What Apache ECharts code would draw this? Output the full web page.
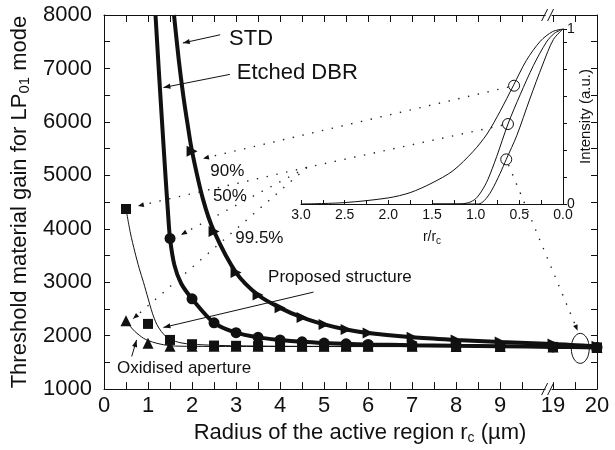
<!DOCTYPE html>
<html><head><meta charset="utf-8">
<script src="https://cdn.jsdelivr.net/npm/echarts@6/dist/echarts.min.js"></script>
<style>html,body{margin:0;padding:0;background:#fff}#c{width:615px;height:450px}</style>
</head><body><div id="c"></div>
<script>
// ---------- data ----------
// main chart: x = radius of active region (µm), y = threshold gain
const xLabelValues = [0,1,2,3,4,5,6,7,8,9,19,20];
const xTickValues  = [0,0.5,1,1.5,2,2.5,3,3.5,4,4.5,5,5.5,6,6.5,7,7.5,8,8.5,9,9.5,19,19.5,20];

const stdCurve = [[1.59,8000],[1.7,7150],[1.8,6500],[1.9,5950],[2,5450],[2.25,4550],[2.5,3950],[3,3180],[3.5,2760],[4,2520],[4.5,2340],[5,2210],[5.5,2115],[6,2050],[7,1970],[8,1920],[9,1880],[19,1846],[20,1800]];
const stdPoints = [[2,5450],[2.5,3950],[3,3180],[3.5,2760],[4,2520],[4.5,2340],[5,2210],[5.5,2115],[6,2050],[7,1970],[8,1920],[9,1880],[19,1846],[20,1800]];

const etchedCurve = [[1.17,8000],[1.25,6900],[1.33,5850],[1.4,4950],[1.45,4350],[1.5,3820],[1.6,3320],[1.75,2980],[2,2690],[2.5,2240],[3,2055],[3.5,1968],[4,1920],[4.5,1885],[5,1862],[5.5,1847],[6,1836],[7,1822],[8,1811],[9,1802],[19,1790],[20,1780]];
const etchedPoints = [[1.5,3820],[2,2690],[2.5,2240],[3,2055],[3.5,1968],[4,1920],[4.5,1885],[5,1862],[5.5,1847],[6,1836],[7,1822],[8,1811],[9,1802],[19,1790],[20,1780]];

const proposedCurve = [[0.5,4370],[0.6,3920],[0.7,3570],[0.8,3260],[0.9,2990],[1.0,2700],[1.1,2420],[1.2,2210],[1.3,2080],[1.4,1990],[1.5,1930],[1.75,1865],[2,1840],[2.5,1820],[3,1810],[4,1802],[5,1800],[6,1800],[7,1800],[8,1798],[9,1795],[19,1785],[20,1780]];
const proposedPoints = [[0.5,4370],[1,2220],[1.5,1920],[2,1840],[2.5,1815],[3,1810],[3.5,1805],[4,1800],[4.5,1800],[5,1800],[5.5,1800],[6,1800],[7,1800],[8,1800],[9,1800],[19,1790],[20,1780]];

const oxidisedCurve = [[0.5,2280],[0.6,2170],[0.7,2080],[0.8,2010],[0.9,1950],[1.0,1910],[1.2,1857],[1.5,1812],[2,1800],[3,1798],[5,1796],[7,1795],[9,1793],[19,1788],[20,1780]];
const oxidisedPoints = [[0.5,2280],[1,1857],[1.5,1800],[2,1800],[2.5,1800],[3,1800],[3.5,1800],[4,1800],[4.5,1800],[5,1800],[5.5,1800],[6,1800],[7,1800],[8,1795],[9,1795],[19,1790],[20,1780]];

// inset: x = r/rc, y = intensity (a.u.)
const profileWide   = [[0,1],[0.12,0.985],[0.26,0.93],[0.42,0.82],[0.57,0.675],[0.72,0.53],[0.87,0.40],[1.03,0.30],[1.26,0.19],[1.5,0.12],[1.75,0.065],[2.0,0.035],[2.5,0.008],[3.0,0]];
const profileMid    = [[0,1],[0.1,0.975],[0.19,0.925],[0.34,0.79],[0.49,0.625],[0.63,0.457],[0.76,0.27],[0.86,0.14],[0.93,0.075],[1.0,0.03],[1.08,0.008],[1.2,0],[1.5,0]];
const profileNarrow = [[0,1],[0.11,0.94],[0.23,0.8],[0.38,0.6],[0.53,0.39],[0.65,0.255],[0.72,0.175],[0.82,0.075],[0.9,0.02],[0.97,0],[1.5,0]];
const profileMarks  = [[0.56,0.676],[0.63,0.457],[0.65,0.255]];
const insetYTicks = [0,0.1543,0.3086,0.4629,0.6171,0.7714,0.9257,1];
const insetYLabels = [0,1];

// ---------- axis break: 9.5 .. 19 compressed ----------
const BREAK_SHIFT = 8.8;
const tx = x => x >= 19 ? x - BREAK_SHIFT : x;
const mapXY = arr => arr.map(p => [tx(p[0]), p[1]]);

const FONT = '"Liberation Sans", Arial, Helvetica, sans-serif';
const INK = '#111';

const chart = echarts.init(document.getElementById('c'), null, {renderer:'canvas'});

const axisLine = {show:true, onZero:false, lineStyle:{color:INK, width:1}};
const mark = {color:INK, opacity:1};
const option = {
  animation:false,
  backgroundColor:'#fff',
  textStyle:{fontFamily:FONT, color:INK},
  grid:[
    {left:104, top:15, width:493, height:378},
    {left:301, top:29, width:262, height:175}
  ],
  xAxis:[
    {gridIndex:0, type:'value', min:0, max:tx(20), position:'bottom',
     axisLine,
     axisTick:{show:true, inside:true, length:7, customValues:xTickValues.map(tx), lineStyle:{color:INK}},
     axisLabel:{customValues:xLabelValues.map(tx), fontSize:22, color:INK, margin:6, fontFamily:FONT,
       formatter:v => v > 9.6 ? String(Math.round(v + BREAK_SHIFT)) : String(Math.round(v))},
     splitLine:{show:false},
     name:'Radius of the active region r{sub|c} (\u00b5m)', nameLocation:'middle', nameGap:30,
     nameTextStyle:{fontSize:22, color:INK, fontFamily:FONT, padding:[0,0,0,19],
       rich:{sub:{fontSize:14, fontFamily:FONT, color:INK, padding:[10,0,0,0]}}}},
    {gridIndex:0, type:'value', min:0, max:tx(20), position:'top',
     axisLine,
     axisTick:{show:true, inside:true, length:7, customValues:xTickValues.map(tx), lineStyle:{color:INK}},
     axisLabel:{show:false}, splitLine:{show:false}},
    {gridIndex:1, type:'value', min:0, max:3, inverse:true, interval:0.5, position:'bottom',
     axisLine,
     axisTick:{show:true, inside:true, length:4, lineStyle:{color:INK}},
     minorTick:{show:true, splitNumber:2, length:4, lineStyle:{color:INK}},
     axisLabel:{fontSize:14, color:INK, margin:4, fontFamily:FONT, formatter:v => v.toFixed(1)},
     splitLine:{show:false},
     name:'r/r{sub|c}', nameLocation:'middle', nameGap:24,
     nameTextStyle:{fontSize:14, color:INK, fontFamily:FONT,
       rich:{sub:{fontSize:10, fontFamily:FONT, color:INK, padding:[8,0,0,0]}}}}
  ],
  yAxis:[
    {gridIndex:0, type:'value', min:1000, max:8000, interval:500, position:'left',
     axisLine,
     axisTick:{show:true, inside:true, length:6, lineStyle:{color:INK}},
     axisLabel:{fontSize:22, color:INK, margin:12, fontFamily:FONT, formatter:v => v % 1000 === 0 ? String(v) : ''},
     splitLine:{show:false},
     name:'Threshold material gain for LP{sub|01} mode', nameLocation:'middle', nameGap:71,
     nameTextStyle:{fontSize:22, color:INK, fontFamily:FONT,
       rich:{sub:{fontSize:15, fontFamily:FONT, color:INK, padding:[10,0,0,0]}}}},
    {gridIndex:0, type:'value', min:1000, max:8000, interval:500, position:'right',
     axisLine,
     axisTick:{show:true, inside:true, length:6, lineStyle:{color:INK}},
     axisLabel:{show:false}, splitLine:{show:false}},
    {gridIndex:1, type:'value', min:0, max:1, position:'right',
     axisLine,
     axisTick:{show:true, inside:false, length:4, customValues:insetYTicks, lineStyle:{color:INK}},
     axisLabel:{customValues:insetYLabels, fontSize:14, color:INK, margin:4, fontFamily:FONT, formatter:v => String(v)},
     splitLine:{show:false},
     name:'Intensity (a.u.)', nameLocation:'middle', nameGap:5,
     nameTextStyle:{fontSize:15, color:INK, fontFamily:FONT}}
  ],
  series:[
    {type:'line', xAxisIndex:0, yAxisIndex:0, data:mapXY(proposedCurve), smooth:0.3, showSymbol:false, lineStyle:{color:INK, width:1}, z:2},
    {type:'line', xAxisIndex:0, yAxisIndex:0, data:mapXY(oxidisedCurve), smooth:0.3, showSymbol:false, lineStyle:{color:INK, width:1}, z:2},
    {type:'line', xAxisIndex:0, yAxisIndex:0, data:mapXY(stdCurve), smooth:0.3, showSymbol:false, lineStyle:{color:INK, width:4}, z:3},
    {type:'line', xAxisIndex:0, yAxisIndex:0, data:mapXY(etchedCurve), smooth:0.3, showSymbol:false, lineStyle:{color:INK, width:4}, z:3},
    {type:'scatter', xAxisIndex:0, yAxisIndex:0, data:mapXY(proposedPoints), symbol:'rect', symbolSize:10, itemStyle:mark, z:5},
    {type:'scatter', xAxisIndex:0, yAxisIndex:0, data:mapXY(oxidisedPoints), symbol:'triangle', symbolSize:11, itemStyle:mark, z:5},
    {type:'scatter', xAxisIndex:0, yAxisIndex:0, data:mapXY(etchedPoints), symbol:'circle', symbolSize:11, itemStyle:mark, z:5},
    {type:'scatter', xAxisIndex:0, yAxisIndex:0, data:mapXY(stdPoints), symbol:'triangle', symbolRotate:-90, symbolSize:11, itemStyle:mark, z:5},
    {type:'line', xAxisIndex:2, yAxisIndex:2, data:profileWide, smooth:0.3, showSymbol:false, lineStyle:{color:INK, width:1}},
    {type:'line', xAxisIndex:2, yAxisIndex:2, data:profileMid, smooth:0.3, showSymbol:false, lineStyle:{color:INK, width:1}},
    {type:'line', xAxisIndex:2, yAxisIndex:2, data:profileNarrow, smooth:0.3, showSymbol:false, lineStyle:{color:INK, width:1}},
    {type:'scatter', xAxisIndex:2, yAxisIndex:2, data:profileMarks, symbol:'circle', symbolSize:11,
     itemStyle:{color:'rgba(0,0,0,0)', borderColor:INK, borderWidth:1, opacity:1}, z:6}
  ]
};
chart.setOption(option);

// ---------- annotations (anchored in data coordinates) ----------
const P = (x, v) => chart.convertToPixel({gridIndex:0}, [tx(x), v]);
const PA = (ax, v) => chart.convertToPixel({gridIndex:0}, [ax, v]);
const Q = (r, I) => chart.convertToPixel({gridIndex:1}, [r, I]);

function head(tip, from, len, half) {
  len = len || 7; half = half || 2.6;
  const dx = tip[0]-from[0], dy = tip[1]-from[1], d = Math.hypot(dx, dy);
  const ux = dx/d, uy = dy/d, bx = tip[0]-ux*len, by = tip[1]-uy*len;
  return {type:'polygon', z:100, shape:{points:[tip,[bx-uy*half, by+ux*half],[bx+uy*half, by-ux*half]]}, style:{fill:INK}};
}
function solidArrow(from, tip) {
  return [{type:'line', z:100, shape:{x1:from[0], y1:from[1], x2:tip[0], y2:tip[1]}, style:{stroke:INK, lineWidth:1}}, head(tip, from)];
}
function dotted(a, b) {
  return {type:'line', z:99, shape:{x1:a[0], y1:a[1], x2:b[0], y2:b[1]}, style:{stroke:'#222', lineWidth:1.4, lineDash:[1.4,8.6]}};
}
function dottedArrow(a, tip) { return [dotted(a, tip), head(tip, a, 6, 2.4)]; }
function fromCircle(c, target, r) {
  const dx = target[0]-c[0], dy = target[1]-c[1], d = Math.hypot(dx, dy);
  return [c[0]+dx/d*r, c[1]+dy/d*r];
}
function label(text, pt, size) {
  return {type:'text', z:101, style:{text, x:pt[0], y:pt[1], font:size+'px '+FONT, fill:INK, align:'center', verticalAlign:'middle'}};
}

const g = [];
g.push(label('STD', P(3.34,7556), 22));
g.push(label('Etched DBR', P(4.39,6907), 22));
g.push(label('90%', P(2.8,5074), 17));
g.push(label('50%', P(2.86,4611), 17));
g.push(label('99.5%', P(3.53,3815), 17));
g.push(label('Proposed structure', P(5.36,3093), 17));
g.push(label('Oxidised aperture', P(1.82,1389), 17));
g.push(...solidArrow(P(2.64,7630), P(1.79,7476)));
g.push(...solidArrow(P(2.86,6889), P(1.35,6643)));
g.push(...solidArrow(P(4.76,2815), P(1.35,2154)));
g.push(...solidArrow(P(0.63,1611), P(0.74,1920)));
const c1 = Q(profileMarks[0][0], profileMarks[0][1]);
const c2 = Q(profileMarks[1][0], profileMarks[1][1]);
const c3 = Q(profileMarks[2][0], profileMarks[2][1]);
const t1 = P(2.25,5315);
g.push(...dottedArrow(fromCircle(c1, t1, 6), t1));
const junction = P(4.61,5148);
g.push(dotted(fromCircle(c2, junction, 6), junction));
g.push(...dottedArrow(junction, P(0.77,4426)));
g.push(...dottedArrow(junction, P(1.75,3889)));
g.push(...dottedArrow(junction, P(0.66,2315)));
const t3 = P(19.56,2093);
g.push(...dottedArrow(fromCircle(c3, t3, 6), t3));
const e = P(19.62,1762);
g.push({type:'ellipse', z:100, shape:{cx:e[0], cy:e[1], rx:9, ry:15}, style:{stroke:INK, lineWidth:1, fill:null}});
const bx = PA(tx(19) - 0.1, 1000)[0];
[PA(0,1000)[1], PA(0,8000)[1]].forEach(yy => {
  g.push({type:'rect', z:98, shape:{x:bx-3, y:yy-2, width:6, height:4}, style:{fill:'#fff'}});
  g.push({type:'line', z:100, shape:{x1:bx-7, y1:yy+6, x2:bx-1, y2:yy-6}, style:{stroke:INK, lineWidth:1}});
  g.push({type:'line', z:100, shape:{x1:bx-1, y1:yy+6, x2:bx+5, y2:yy-6}, style:{stroke:INK, lineWidth:1}});
});
chart.setOption({graphic:g});
</script>
</body></html>
